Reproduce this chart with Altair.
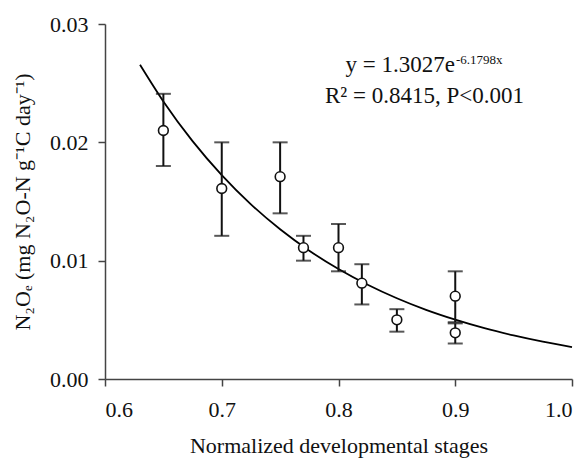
import altair as alt
import pandas as pd

# observed data (mean, error bar top and bottom)
stage = [0.65, 0.70, 0.75, 0.77, 0.80, 0.82, 0.85, 0.90, 0.90]
n2o = [0.0210, 0.0161, 0.0171, 0.0111, 0.0111, 0.0081, 0.0050, 0.0070, 0.0039]
err_hi = [0.0241, 0.0200, 0.0200, 0.0121, 0.0131, 0.0097, 0.0059, 0.0091, 0.0047]
err_lo = [0.0180, 0.0121, 0.0140, 0.0100, 0.0091, 0.0063, 0.0040, 0.0048, 0.0030]

# fitted curve
curve_x = [0.63, 0.65, 0.675, 0.70, 0.725, 0.75, 0.775, 0.80, 0.825, 0.85,
           0.875, 0.90, 0.925, 0.95, 0.975, 1.00]
curve_y = [0.02655, 0.02345, 0.02010, 0.01723, 0.01476, 0.01265, 0.01084, 0.00929,
           0.00796, 0.00682, 0.00584, 0.00501, 0.00429, 0.00368, 0.00315, 0.00269]

x_ticks = [0.6, 0.7, 0.8, 0.9, 1.0]
y_ticks = [0.0, 0.01, 0.02, 0.03]

FONT = "Liberation Serif"
INK = "#111111"

pts = pd.DataFrame({"stage": stage, "n2o": n2o, "hi": err_hi, "lo": err_lo})
fit = pd.DataFrame({"stage": curve_x, "n2o": curve_y})

xscale = alt.Scale(domain=[0.6, 1.0], nice=False, zero=False)
yscale = alt.Scale(domain=[0.0, 0.03], nice=False)

common = dict(grid=False, tickSize=7, labelFont=FONT, titleFont=FONT,
              labelFontSize=22, titleFontSize=22, labelColor=INK, titleColor=INK,
              titleFontWeight="normal", domainColor="#444", tickColor="#444",
              domainWidth=1.5, tickWidth=1.5)

xaxis = alt.Axis(values=x_ticks, format=".1f", title="Normalized  developmental stages",
                 labelPadding=13, titlePadding=15, **common)
yaxis = alt.Axis(values=y_ticks, format=".2f",
                 title="N\u2082O\u2091 (mg N\u2082O-N g\u207b\u00b9C day\u207b\u00b9)",
                 labelPadding=10, titlePadding=15, **common)

base = alt.Chart(pts)

line = alt.Chart(fit).mark_line(color="black", strokeWidth=1.8, interpolate="monotone").encode(
    x=alt.X("stage:Q", scale=xscale, axis=xaxis),
    y=alt.Y("n2o:Q", scale=yscale, axis=yaxis),
)

rules = base.mark_rule(color=INK, strokeWidth=2).encode(
    x=alt.X("stage:Q", scale=xscale),
    y=alt.Y("lo:Q", scale=yscale),
    y2="hi:Q",
)

cap_hi = base.mark_tick(orient="horizontal", color=INK, size=15, thickness=2).encode(
    x=alt.X("stage:Q", scale=xscale),
    y=alt.Y("hi:Q", scale=yscale),
)
cap_lo = base.mark_tick(orient="horizontal", color=INK, size=15, thickness=2).encode(
    x=alt.X("stage:Q", scale=xscale),
    y=alt.Y("lo:Q", scale=yscale),
)

circles = base.mark_point(shape="circle", size=95, filled=True, fill="white",
                          stroke=INK, strokeWidth=1.6, opacity=1).encode(
    x=alt.X("stage:Q", scale=xscale),
    y=alt.Y("n2o:Q", scale=yscale),
)

eq1 = alt.Chart(pd.DataFrame({"t": ["y = 1.3027e"]})).mark_text(
    font=FONT, fontSize=23, align="right", baseline="alphabetic", color=INK
).encode(text="t:N", x=alt.value(350), y=alt.value(48))
eq1s = alt.Chart(pd.DataFrame({"t": ["-6.1798x"]})).mark_text(
    font=FONT, fontSize=13, align="left", baseline="alphabetic", color=INK
).encode(text="t:N", x=alt.value(351), y=alt.value(40))
eq2 = alt.Chart(pd.DataFrame({"t": ["R\u00b2 = 0.8415, P<0.001"]})).mark_text(
    font=FONT, fontSize=23, align="left", baseline="alphabetic", color=INK
).encode(text="t:N", x=alt.value(220), y=alt.value(79))

chart = alt.layer(line, rules, cap_hi, cap_lo, circles, eq1, eq1s, eq2).properties(
    width=467, height=355,
    autosize=alt.AutoSizeParams(type="none"),
    padding={"left": 97, "top": 16, "right": 8, "bottom": 82},
).configure_view(stroke=None)

chart.save("out.html", embed_options={"renderer": "svg", "actions": False})
